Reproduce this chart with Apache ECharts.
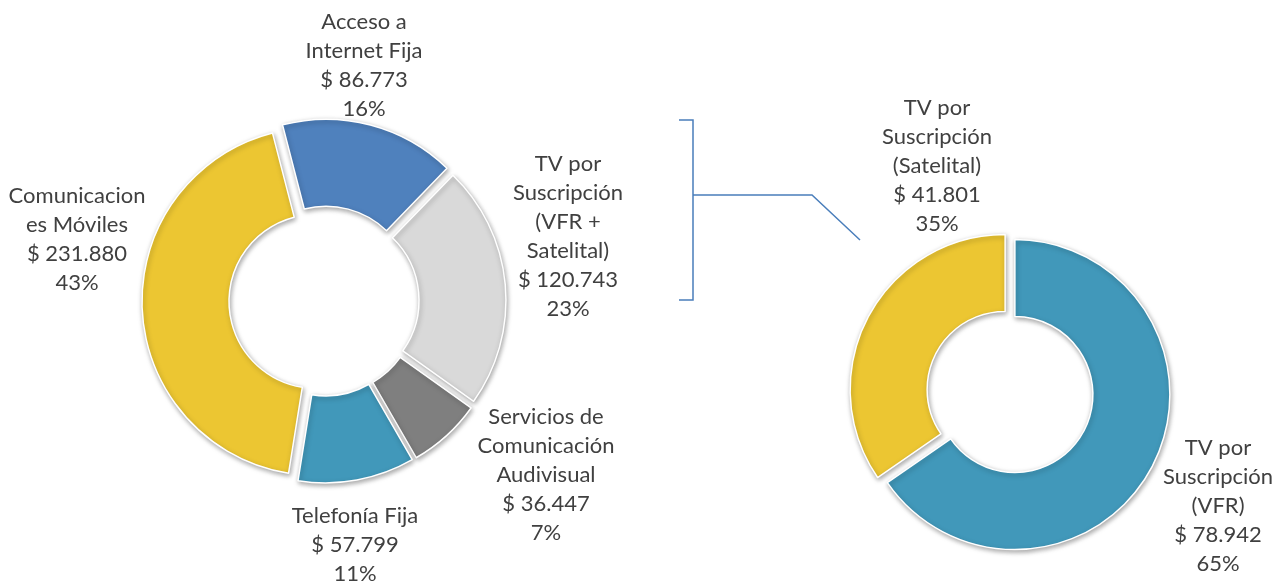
<!DOCTYPE html>
<html>
<head>
<meta charset="utf-8">
<script src="https://cdn.jsdelivr.net/npm/echarts@6/dist/echarts.min.js"></script>
<style>
  html, body { margin: 0; padding: 0; background: #fff; }
  #chart { width: 1288px; height: 586px; }
</style>
</head>
<body>
<div id="chart"></div>
<script>
// ingresos por servicio (millones $)
const mainNames = [
  "Acceso a\nInternet Fija",
  "TV por\nSuscripción\n(VFR +\nSatelital)",
  "Servicios de\nComunicación\nAudivisual",
  "Telefonía Fija",
  "Comunicacion\nes Móviles",
];
const mainValues = [86773, 120743, 36447, 57799, 231880];
const mainColors = ["#4f81bd", "#d9d9d9", "#7f7f7f", "#4198ba", "#ecc632"];

// desglose TV por suscripción
const subNames = ["TV por\nSuscripción\n(VFR)", "TV por\nSuscripción\n(Satelital)"];
const subValues = [78942, 41801];
const subColors = ["#4198ba", "#ecc632"];

(function () {
  const myChart = echarts.init(document.getElementById("chart"));

  function fmt(v) {
    return String(v).replace(/\B(?=(\d{3})+(?!\d))/g, ".");
  }

  // posiciones de las etiquetas (centro del bloque de texto)
  const mainLabelPos = [
    [364, 65],
    [568, 236],
    [546, 475],
    [355, 545],
    [77, 239],
  ];
  const subLabelPos = [
    [1218, 506],
    [937, 166],
  ];

  const itemStyle = {
    borderColor: "#fff",
    borderWidth: 1.5,
    shadowBlur: 5,
    shadowColor: "rgba(0,0,0,0.35)",
    shadowOffsetX: 1,
    shadowOffsetY: 2,
  };

  function buildData(names, values, colors) {
    return names.map(function (n, i) {
      return {
        name: n,
        value: values[i],
        selected: true,
        itemStyle: { color: colors[i] },
      };
    });
  }

  function buildLabels(names, values, pos) {
    const total = values.reduce(function (a, b) { return a + b; }, 0);
    return names.map(function (n, i) {
      const pct = Math.round((values[i] / total) * 100);
      return {
        type: "text",
        x: pos[i][0],
        y: pos[i][1],
        silent: true,
        style: {
          text: n + "\n$ " + fmt(values[i]) + "\n" + pct + "%",
          fill: "#404040",
          font: "22px Lato",
          lineHeight: 29,
          align: "center",
          verticalAlign: "middle",
        },
      };
    });
  }

  const option = {
    animation: false,
    series: [
      {
        name: "Ingresos",
        type: "pie",
        center: [324, 301],
        radius: [87, 174],
        startAngle: 104.5,
        selectedMode: "multiple",
        selectedOffset: 8,
        itemStyle: itemStyle,
        label: { show: false },
        labelLine: { show: false },
        emphasis: { disabled: true },
        data: buildData(mainNames, mainValues, mainColors),
      },
      {
        name: "TV por Suscripción",
        type: "pie",
        center: [1010, 392],
        radius: [78, 155],
        startAngle: 90,
        selectedMode: "multiple",
        selectedOffset: 5.5,
        itemStyle: itemStyle,
        label: { show: false },
        labelLine: { show: false },
        emphasis: { disabled: true },
        data: buildData(subNames, subValues, subColors),
      },
    ],
    graphic: [
      {
        type: "polyline",
        shape: { points: [[679, 120], [693, 120], [693, 300], [679, 300]] },
        style: { stroke: "#4a7ebb", lineWidth: 1.5, fill: null },
      },
      {
        type: "polyline",
        shape: { points: [[693, 195], [812, 195], [860, 240]] },
        style: { stroke: "#4a7ebb", lineWidth: 1.5, fill: null },
      },
    ]
      .concat(buildLabels(mainNames, mainValues, mainLabelPos))
      .concat(buildLabels(subNames, subValues, subLabelPos)),
  };
  myChart.setOption(option);

  window.addEventListener("resize", function () {
    myChart.resize();
  });
})();
</script>
</body>
</html>
